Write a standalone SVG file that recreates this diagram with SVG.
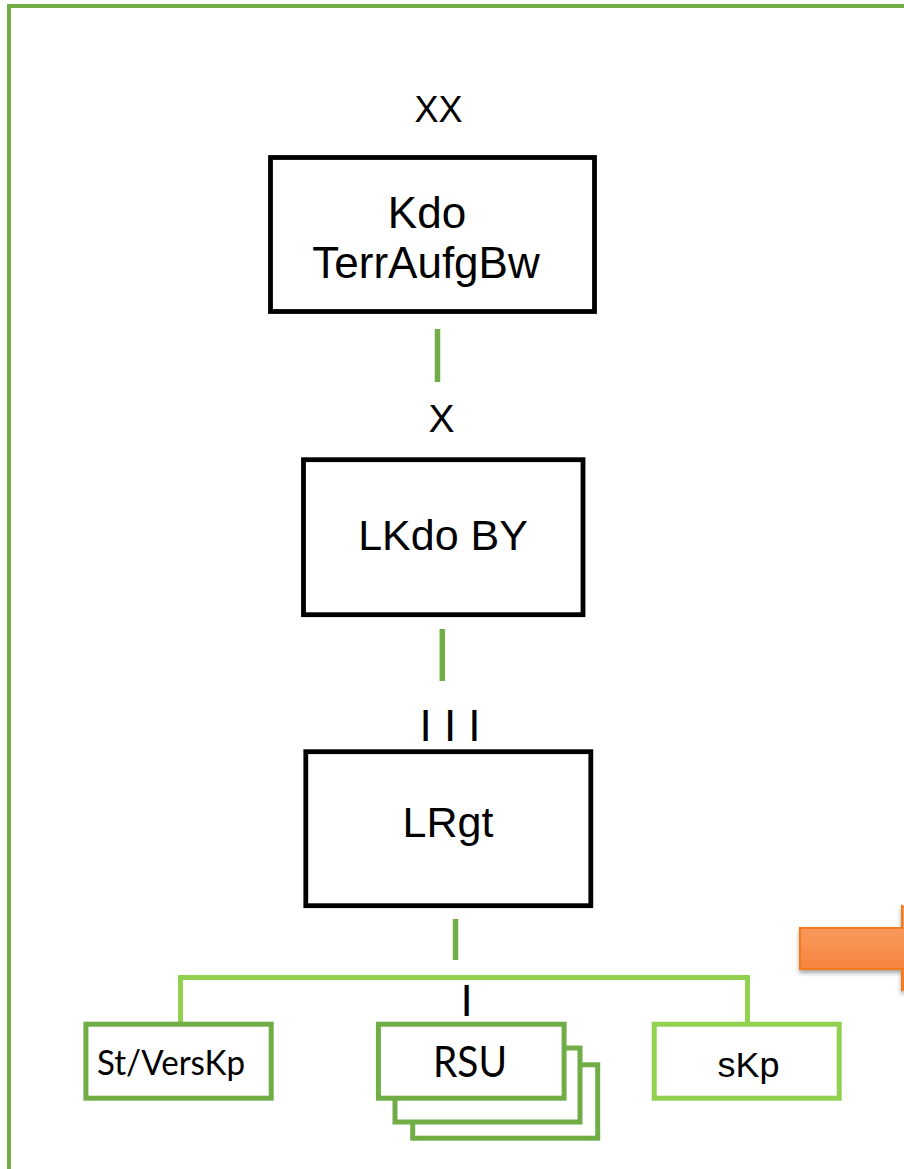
<svg xmlns="http://www.w3.org/2000/svg" width="904" height="1169" viewBox="0 0 904 1169">
<style>
.bx{fill:#fff;stroke:#000;stroke-width:4.8}
.gd{fill:#fff;stroke:#70ad47;stroke-width:5}
.gl{fill:#fff;stroke:#92d050;stroke-width:5}
.con{fill:none;stroke:#70ad47;stroke-width:5.5}
.bus{fill:none;stroke:#92d050;stroke-width:5}
.t{font-family:"Liberation Sans",Arial,sans-serif;fill:#000;text-anchor:middle}
.c{font-family:Lato,"Noto Sans",sans-serif;fill:#000;text-anchor:middle}
</style>
<defs>
<linearGradient id="og" x1="0" y1="0" x2="0" y2="1">
<stop offset="0" stop-color="#fca36e"/>
<stop offset="1" stop-color="#f47a2c"/>
</linearGradient>
<filter id="sh" x="-20%" y="-20%" width="140%" height="160%">
<feDropShadow dx="0" dy="3" stdDeviation="2" flood-color="#000" flood-opacity="0.35"/>
</filter>
</defs>
<rect width="904" height="1169" fill="#fff"/>
<rect x="9" y="6" width="1000" height="1200" fill="none" stroke="#70ad47" stroke-width="4"/>

<g id="connectors">
<line class="con" x1="437.5" y1="329" x2="437.5" y2="382"/>
<line class="con" x1="442.3" y1="629" x2="442.3" y2="681"/>
<line class="con" x1="455.5" y1="919" x2="455.5" y2="960"/>
<path class="bus" d="M180.5,1025 V977.5 H747.5 V1024"/>
</g>

<g id="label-xx"><text class="t" x="438.5" y="122" font-size="36">XX</text></g>
<g id="node-kdo">
<rect class="bx" x="270.5" y="157.5" width="324" height="154"/>
<text class="t" x="427" y="228" font-size="44">Kdo</text>
<text class="t" x="426" y="278" font-size="44">TerrAufgBw</text>
</g>
<g id="label-x"><text class="t" x="441.5" y="432" font-size="39">X</text></g>
<g id="node-lkdo">
<rect class="bx" x="303.5" y="459.7" width="279.5" height="155"/>
<text class="t" x="443" y="550" font-size="43">LKdo BY</text>
</g>
<g id="label-iii"><text class="t" x="450" y="741" font-size="44">I I I</text></g>
<g id="node-lrgt">
<rect class="bx" x="305.8" y="751.7" width="285" height="154"/>
<text class="t" x="448" y="837" font-size="43">LRgt</text>
</g>
<g id="label-i"><text class="t" x="466.7" y="1016" font-size="44">I</text></g>

<g id="node-stverskp">
<rect class="gd" x="85.9" y="1024.2" width="185.3" height="74"/>
<text class="c" x="171" y="1075" font-size="35" textLength="148" lengthAdjust="spacingAndGlyphs">St/VersKp</text>
</g>
<g id="node-rsu">
<rect class="gd" x="412.7" y="1064.8" width="185" height="73.4"/>
<rect class="gd" x="395" y="1048" width="185" height="74"/>
<rect class="gd" x="378.4" y="1024.2" width="185.7" height="74"/>
<text class="c" x="470" y="1077" font-size="42" textLength="74" lengthAdjust="spacingAndGlyphs">RSU</text>
</g>
<g id="node-skp">
<rect class="gl" x="654.2" y="1024.2" width="185" height="74"/>
<text class="t" x="748.5" y="1077" font-size="35" textLength="62" lengthAdjust="spacingAndGlyphs">sKp</text>
</g>

<g id="arrow" filter="url(#sh)">
<path d="M800,928 H902 V906 L984,948 L902,990 V969 H800 Z" fill="url(#og)" stroke="#f07a1e" stroke-width="2"/>
</g>
</svg>
